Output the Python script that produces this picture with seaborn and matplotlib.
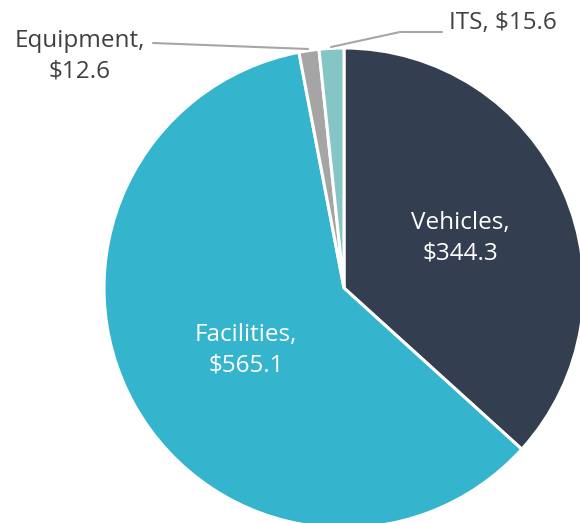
import matplotlib
matplotlib.use("Agg")
import matplotlib.pyplot as plt
import seaborn as sns

categories = ["Vehicles", "Facilities", "Equipment", "ITS"]
values = [344.3, 565.1, 12.6, 15.6]
colors = ["#333F50", "#35B4CD", "#A5A5A5", "#85C5C5"]

sns.set_theme(style="white")
plt.rcParams["font.family"] = ["Open Sans", "DejaVu Sans"]

fig = plt.figure(figsize=(5.8, 5.23), dpi=100)
ax = fig.add_axes([0, 0, 1, 1])

cx, cy, r = 344, 235, 240
wedges, _ = ax.pie(values, colors=colors, startangle=90, counterclock=False,
                   center=(cx, cy), radius=r, frame=True,
                   wedgeprops=dict(edgecolor="white", linewidth=2.2))
ax.set_xlim(0, 580)
ax.set_ylim(0, 523)
ax.set_aspect("equal")
ax.axis("off")

fs = 17.5

# inside labels
ax.text(460, 285, f"{categories[0]},\n${values[0]}", color="white", fontsize=fs,
        ha="center", va="center", linespacing=1.35)
ax.text(246, 173, f"{categories[1]},\n${values[1]}", color="white", fontsize=fs,
        ha="center", va="center", linespacing=1.35)

# outside labels with leader lines
ax.text(80, 467, f"{categories[2]},\n${values[2]}", color="#404040", fontsize=fs,
        ha="center", va="center", linespacing=1.35)
ax.plot([153, 308], [480, 474], color="#A6A6A6", lw=1.5)

ax.text(503, 500, f"{categories[3]}, ${values[3]}", color="#404040", fontsize=fs,
        ha="center", va="center")
ax.plot([331, 400, 442], [476, 491, 491], color="#A6A6A6", lw=1.5)

fig.savefig("out.png", dpi=100)
